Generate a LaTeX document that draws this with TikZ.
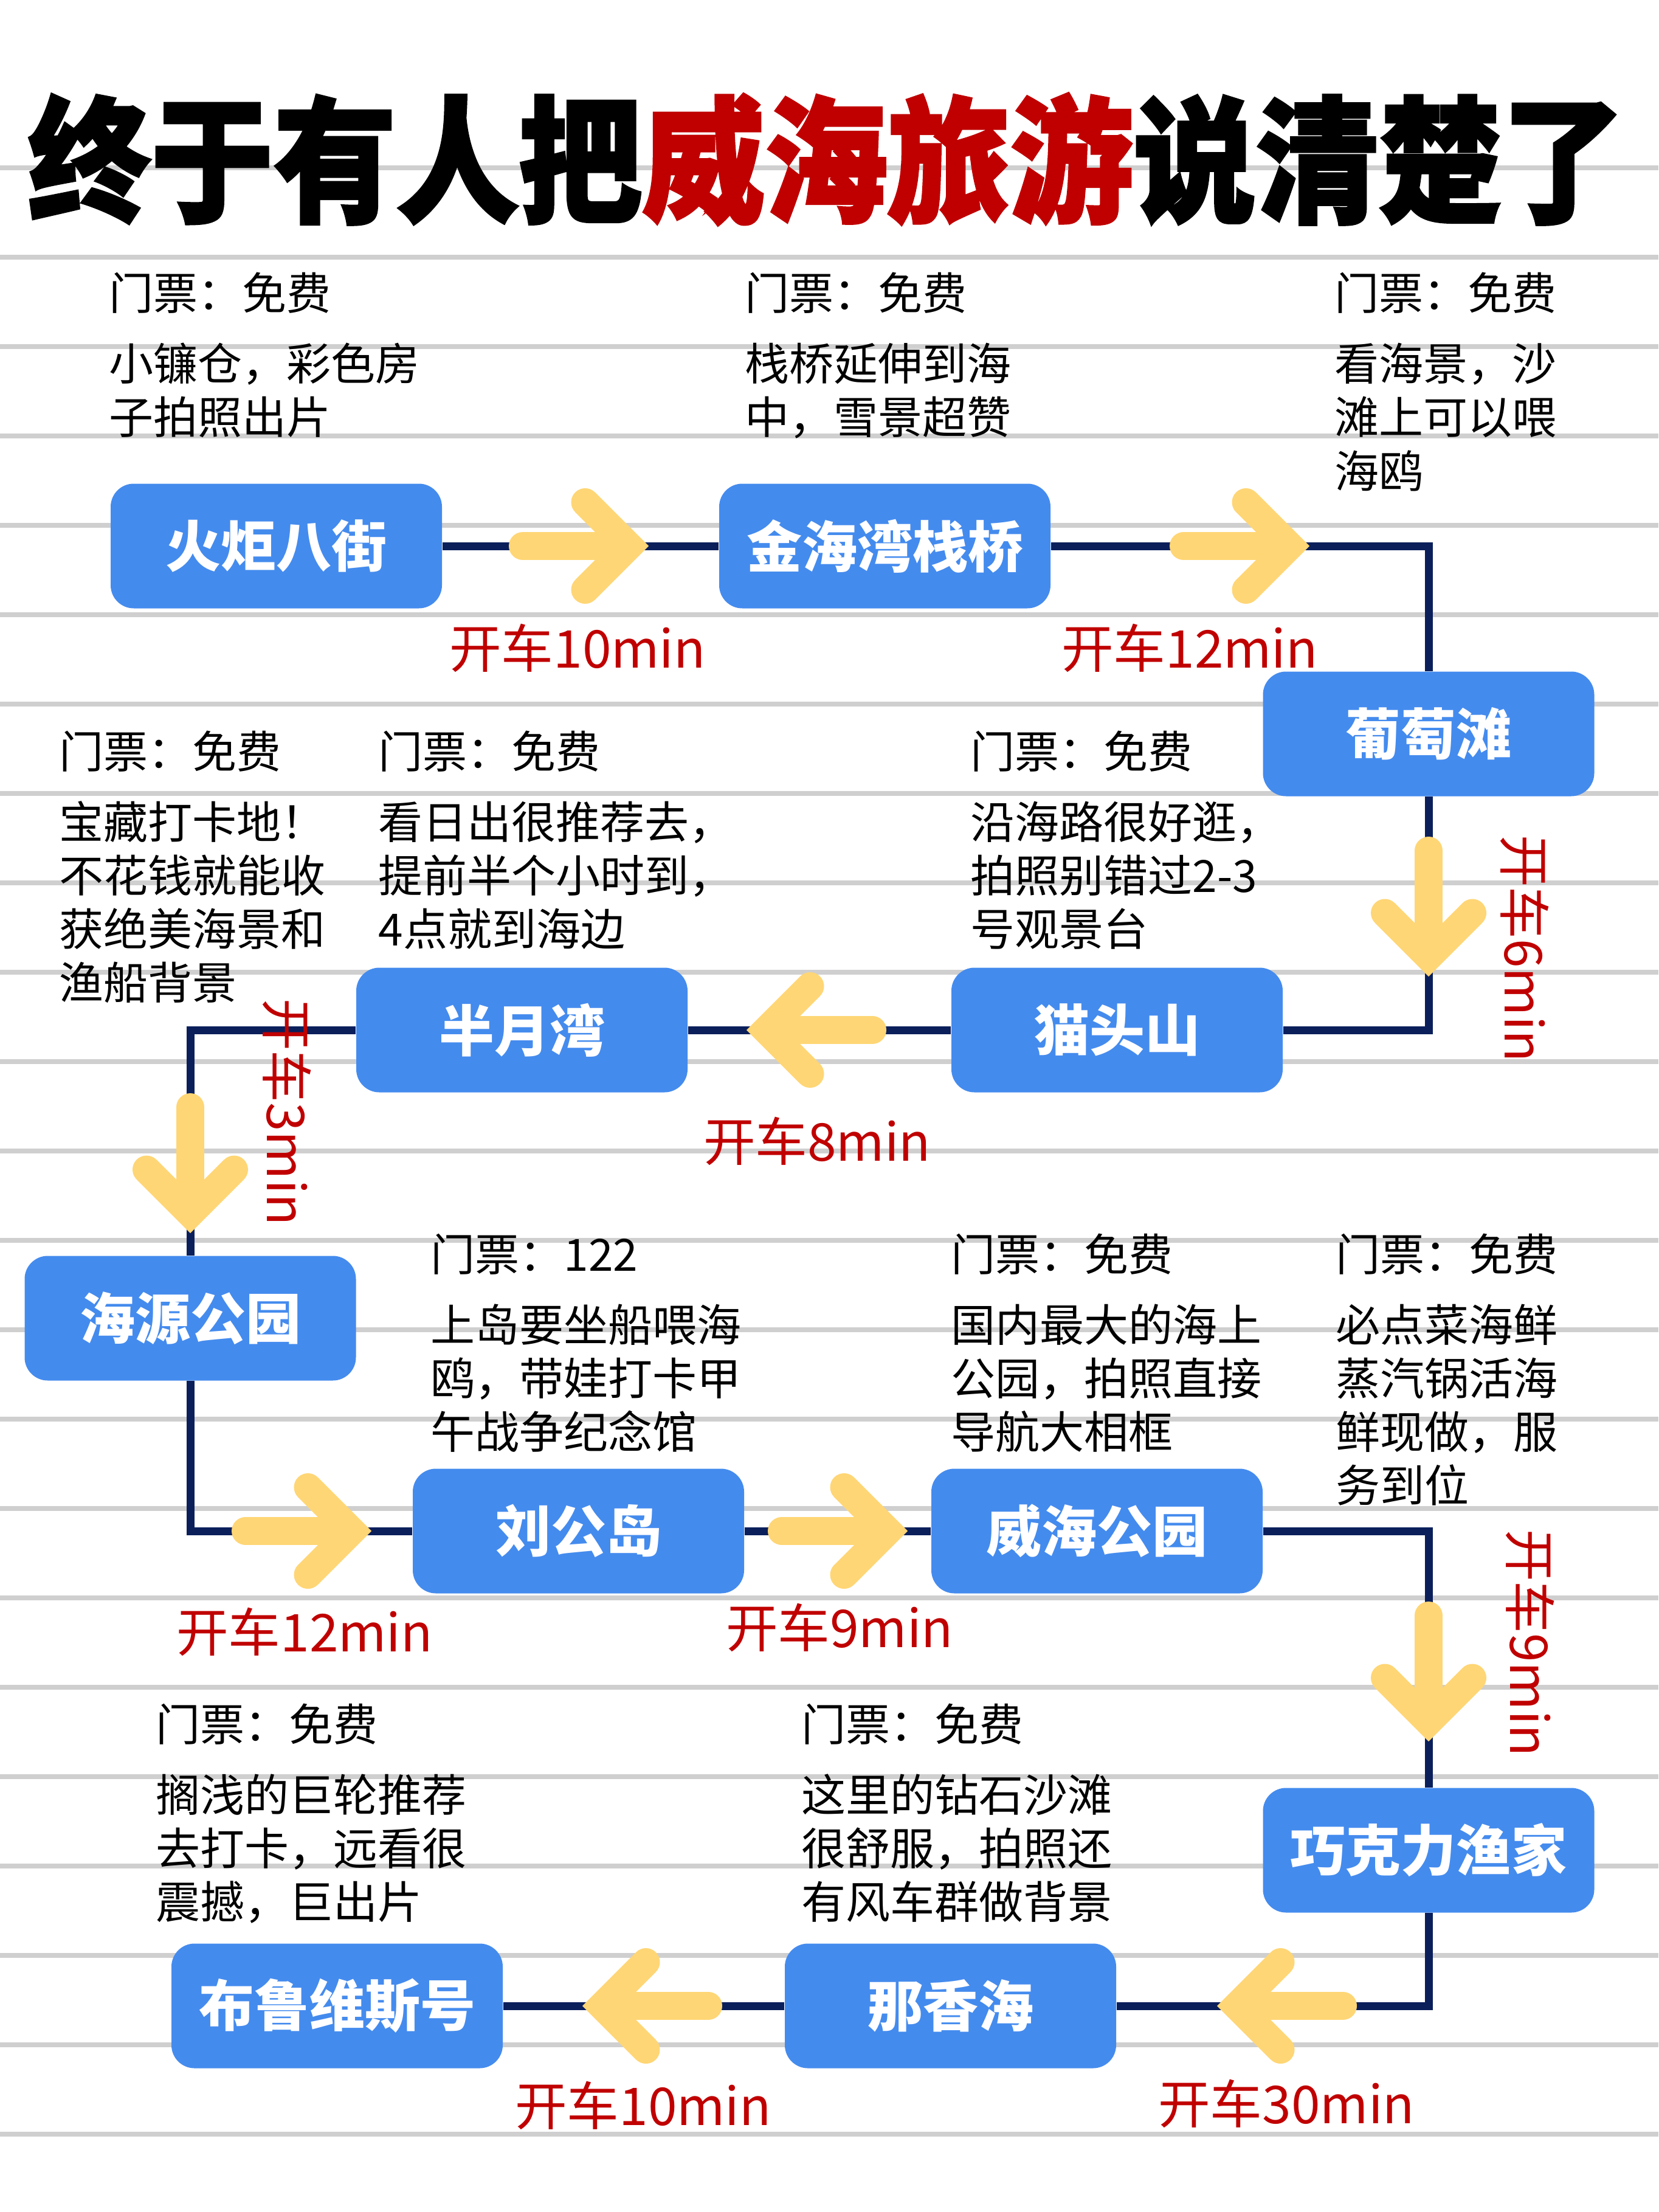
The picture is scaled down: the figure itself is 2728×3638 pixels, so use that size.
\documentclass[tikz,border=0pt]{standalone}
\usepackage{fontspec}
\setmainfont{Noto Sans CJK SC}
\newfontfamily\titlefont{Noto Sans CJK SC}[BoldFeatures={FakeBold=2}]
\definecolor{nodeblue}{HTML}{448BEE}
\definecolor{navy}{HTML}{0B1F5B}
\definecolor{arrowyellow}{HTML}{FFD675}
\definecolor{labelred}{HTML}{C00000}
\definecolor{rulegray}{HTML}{CFCFCF}
\tikzset{
  rule/.style={draw=rulegray, line width=2.2pt},
  spot/.style={fill=nodeblue, rounded corners=11.4pt, minimum width=163.5pt, minimum height=61.5pt,
    text=white, inner sep=0pt, font=\bfseries\fontsize{27.3pt}{30pt}\selectfont},
  link/.style={draw=navy, line width=3.9pt},
  yel/.style={draw=arrowyellow, line width=13.8pt},
  desc/.style={anchor=base west, inner sep=0pt, text=black, font=\fontsize{21.9pt}{26pt}\selectfont},
  drive/.style={inner sep=0pt, text=labelred, font=\fontsize{25.7pt}{28pt}\selectfont},
  yarrow/.pic={
    \draw[yel, line cap=round] (-92,0) -- (60,0);
    \draw[yel, line cap=round, line join=miter] (10.5,-72) -- (82.5,0) -- (10.5,72);
  }
}
\newcommand\infoblock[5]{%
  \node[desc] (#1t) at (#2,#3) {#4};
  \foreach \t [count=\i] in {#5} {\node[desc] (#1l\i) at (#2,#3+116+88*\i-88) {\t};}
}
\begin{document}
\begin{tikzpicture}[x=0.3pt,y=-0.3pt]
\useasboundingbox (0,0) rectangle (2728,3638);
\fill[white] (0,0) rectangle (2728,3638);
\foreach \k in {0,...,22} \draw[rule] (0,276+147*\k) -- (2728,276+147*\k);

% title
\node[inner sep=0pt, xscale=1.01, yscale=1.12, font=\titlefont\bfseries\fontsize{60pt}{60pt}\selectfont] (title) at (1359,262)
  {终于有人把\textcolor{labelred}{威海旅游}说清楚了};

% spots
\node[spot] (A) at (454.5,898) {火炬八街};
\node[spot] (B) at (1455.5,898) {金海湾栈桥};
\node[spot] (C) at (2350,1207) {葡萄滩};
\node[spot] (D) at (1837.5,1694) {猫头山};
\node[spot] (E) at (858.5,1694) {半月湾};
\node[spot] (F) at (313,2168) {海源公园};
\node[spot] (G) at (951.5,2518) {刘公岛};
\node[spot] (H) at (1804.5,2518) {威海公园};
\node[spot] (I) at (2350,3043) {巧克力渔家};
\node[spot] (J) at (1563.5,3299) {那香海};
\node[spot] (K) at (554.5,3299) {布鲁维斯号};

% connectors
\draw[link] (A.east) -- (B.west);
\draw[link] (B.east) -| (C.north);
\draw[link] (C.south) |- (D.east);
\draw[link] (D.west) -- (E.east);
\draw[link] (E.west) -| (F.north);
\draw[link] (F.south) |- (G.west);
\draw[link] (G.east) -- (H.west);
\draw[link] (H.east) -| (I.north);
\draw[link] (I.south) |- (J.east);
\draw[link] (J.west) -- (K.east);

% yellow arrows
\pic at (952,898) {yarrow};
\pic at (2039,898) {yarrow};
\pic[rotate=-90] at (2350,1491) {yarrow};
\pic[rotate=180] at (1343,1694) {yarrow};
\pic[rotate=-90] at (313,1913) {yarrow};
\pic at (496,2518) {yarrow};
\pic at (1378,2518) {yarrow};
\pic[rotate=-90] at (2350,2749) {yarrow};
\pic[rotate=180] at (2117,3299) {yarrow};
\pic[rotate=180] at (1073,3299) {yarrow};

% drive labels
\node[drive] (t1) at (950,1066) {开车10min};
\node[drive] (t2) at (1957,1066) {开车12min};
\node[drive, rotate=-90] (t3) at (2508,1560) {开车6min};
\node[drive] (t4) at (1344,1877) {开车8min};
\node[drive, rotate=-90] (t5) at (472,1829) {开车3min};
\node[drive] (t6) at (501,2684) {开车12min};
\node[drive] (t7) at (1381,2677) {开车9min};
\node[drive, rotate=-90] (t8) at (2517,2702) {开车9min};
\node[drive] (t9) at (2116,3460) {开车30min};
\node[drive] (t10) at (1058,3463) {开车10min};

% info texts
\infoblock{a}{179}{510}{门票：免费}{小镰仓，彩色房,子拍照出片}
\infoblock{b}{1225}{510}{门票：免费}{栈桥延伸到海,中，雪景超赞}
\infoblock{c}{2195}{510}{门票：免费}{看海景，沙,滩上可以喂,海鸥}
\infoblock{e}{97}{1263}{门票：免费}{宝藏打卡地！,不花钱就能收,获绝美海景和,渔船背景}
\infoblock{f}{622}{1263}{门票：免费}{看日出很推荐去，,提前半个小时到，,4点就到海边}
\infoblock{d}{1596}{1263}{门票：免费}{沿海路很好逛，,拍照别错过2-3,号观景台}
\infoblock{g}{708}{2090}{门票：122}{上岛要坐船喂海,鸥，带娃打卡甲,午战争纪念馆}
\infoblock{h}{1564}{2090}{门票：免费}{国内最大的海上,公园，拍照直接,导航大相框}
\infoblock{i}{2197}{2090}{门票：免费}{必点菜海鲜,蒸汽锅活海,鲜现做，服,务到位}
\infoblock{k}{256}{2863}{门票：免费}{搁浅的巨轮推荐,去打卡，远看很,震撼，巨出片}
\infoblock{j}{1318}{2863}{门票：免费}{这里的钻石沙滩,很舒服，拍照还,有风车群做背景}
\end{tikzpicture}
\end{document}
